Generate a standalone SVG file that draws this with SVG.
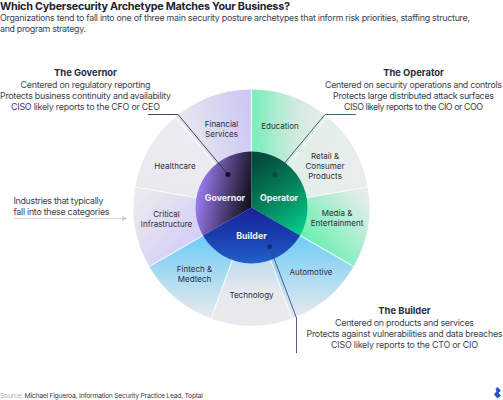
<svg xmlns="http://www.w3.org/2000/svg" width="503" height="400" viewBox="0 0 503 400">
<style>
text{font-family:"Inter","Liberation Sans",sans-serif}
.h{font-size:9.4px;font-weight:700;fill:#262d3d;text-anchor:middle}
.b{font-size:8.9px;fill:#3c4350;text-anchor:middle}
.s{font-size:8px;fill:#262d3d;text-anchor:middle}
.c{font-size:8.8px;font-weight:700;fill:#f2f2fa;text-anchor:middle}
.w{stroke:#fff;stroke-opacity:.75;stroke-width:1.2;fill:none}
.l{fill:none;stroke-width:.9}
</style>
<defs>
<linearGradient id="fs" gradientUnits="userSpaceOnUse" x1="251" y1="120" x2="180" y2="140"><stop offset="0" stop-color="#cdc8f5"/><stop offset="1" stop-color="#e9eaee"/></linearGradient>
<linearGradient id="hc" gradientUnits="userSpaceOnUse" x1="175" y1="130" x2="150" y2="200"><stop offset="0" stop-color="#ebebf2"/><stop offset="1" stop-color="#e9eaee"/></linearGradient>
<linearGradient id="ci" gradientUnits="userSpaceOnUse" x1="140" y1="190" x2="200" y2="240"><stop offset="0" stop-color="#ebebee"/><stop offset="1" stop-color="#d3cdf6"/></linearGradient>
<linearGradient id="ed" gradientUnits="userSpaceOnUse" x1="252" y1="125" x2="325" y2="125"><stop offset="0" stop-color="#76efb8"/><stop offset=".55" stop-color="#cdeadc"/><stop offset="1" stop-color="#e8edeb"/></linearGradient>
<linearGradient id="re" gradientUnits="userSpaceOnUse" x1="300" y1="160" x2="365" y2="180"><stop offset="0" stop-color="#e2eee8"/><stop offset="1" stop-color="#ebeded"/></linearGradient>
<linearGradient id="me" gradientUnits="userSpaceOnUse" x1="360" y1="190" x2="305" y2="235"><stop offset="0" stop-color="#e6eceb"/><stop offset="1" stop-color="#6cf0b2"/></linearGradient>
<linearGradient id="au" gradientUnits="userSpaceOnUse" x1="310" y1="240" x2="310" y2="315"><stop offset="0" stop-color="#74cdf5"/><stop offset="1" stop-color="#e5e9ee"/></linearGradient>
<linearGradient id="te" gradientUnits="userSpaceOnUse" x1="251" y1="262" x2="251" y2="310"><stop offset="0" stop-color="#bfdcee"/><stop offset=".6" stop-color="#e6e9ed"/><stop offset="1" stop-color="#e8eaed"/></linearGradient>
<linearGradient id="fi" gradientUnits="userSpaceOnUse" x1="195" y1="240" x2="195" y2="315"><stop offset="0" stop-color="#74cdf5"/><stop offset="1" stop-color="#e5e9ee"/></linearGradient>
<linearGradient id="go" gradientUnits="userSpaceOnUse" x1="197" y1="195" x2="252" y2="205"><stop offset="0" stop-color="#9a7cf0"/><stop offset=".5" stop-color="#53417f"/><stop offset="1" stop-color="#0d0b14"/></linearGradient>
<linearGradient id="op" gradientUnits="userSpaceOnUse" x1="255" y1="160" x2="305" y2="225"><stop offset="0" stop-color="#044a3e"/><stop offset=".5" stop-color="#038058"/><stop offset="1" stop-color="#04c686"/></linearGradient>
<linearGradient id="bu" gradientUnits="userSpaceOnUse" x1="251" y1="210" x2="251" y2="264"><stop offset="0" stop-color="#18249a"/><stop offset=".5" stop-color="#1a3fb0"/><stop offset="1" stop-color="#2360cc"/></linearGradient>
<marker id="ah" markerWidth="6" markerHeight="6" refX="5" refY="2.5" orient="auto"><path d="M0 0L5 2.5L0 5z" fill="#c9cbd0"/></marker>
</defs>

<text x="0" y="9.500" textLength="290" style="font-size:10.800px;font-weight:700;fill:#1f2533">Which Cybersecurity Archetype Matches Your Business?</text>
<text x="0" y="21" textLength="470" style="font-size:8.900px;fill:#3c4350">Organizations tend to fall into one of three main security posture archetypes that inform risk priorities, staffing structure,</text>
<text x="0" y="32" textLength="86" style="font-size:8.900px;fill:#3c4350">and program strategy.</text>

<g id="ring">
<path id="w-fs" fill="url(#fs)" d="M251.5 207.5V89.5A118 118 0 0 0 175.650 117.110Z"/>
<path id="w-hc" fill="url(#hc)" d="M251.5 207.5L175.650 117.110A118 118 0 0 0 135.293 187.010Z"/>
<path id="w-ci" fill="url(#ci)" d="M251.5 207.5L135.293 187.010A118 118 0 0 0 149.309 266.500Z"/>
<path id="w-ed" fill="url(#ed)" d="M251.5 207.5V89.5A118 118 0 0 1 327.350 117.110Z"/>
<path id="w-re" fill="url(#re)" d="M251.5 207.5L327.350 117.110A118 118 0 0 1 367.707 187.010Z"/>
<path id="w-me" fill="url(#me)" d="M251.5 207.5L367.707 187.010A118 118 0 0 1 353.691 266.500Z"/>
<path id="w-au" fill="url(#au)" d="M251.5 207.5L353.691 266.500A118 118 0 0 1 291.858 318.384Z"/>
<path id="w-te" fill="url(#te)" d="M251.5 207.5L291.858 318.384A118 118 0 0 1 211.142 318.384Z"/>
<path id="w-fi" fill="url(#fi)" d="M251.5 207.5L211.142 318.384A118 118 0 0 1 149.309 266.500Z"/>
<path class="w" d="M251.5 89.5V207.5M175.650 117.110L251.5 207.5L327.350 117.110M135.293 187.010L251.5 207.5L367.707 187.010M149.309 266.500L251.5 207.5L353.691 266.500M211.142 318.384L251.5 207.5L291.858 318.384"/>
</g>

<g id="governor"><path fill="url(#go)" d="M251.5 207.5V151.500A56 56 0 0 0 203.003 235.500Z"/><text class="c" x="225" y="201">Governor</text></g>
<g id="operator"><path fill="url(#op)" d="M251.5 207.5V151.500A56 56 0 0 1 299.997 235.500Z"/><text class="c" x="279" y="201">Operator</text></g>
<g id="builder"><path fill="url(#bu)" d="M251.5 207.5L299.997 235.500A56 56 0 0 1 203.003 235.500Z"/><text class="c" x="251.500" y="239">Builder</text></g>

<g id="n-fs"><text class="s" x="221.500" y="127">Financial</text><text class="s" x="221.500" y="137">Services</text></g>
<g id="n-hc"><text class="s" x="175" y="168.500">Healthcare</text></g>
<g id="n-ci"><text class="s" x="166.500" y="217">Critical</text><text class="s" x="166.500" y="227">Infrastructure</text></g>
<g id="n-ed"><text class="s" x="280" y="129">Education</text></g>
<g id="n-re"><text class="s" x="325" y="159">Retail &amp;</text><text class="s" x="325" y="169">Consumer</text><text class="s" x="325" y="179">Products</text></g>
<g id="n-me"><text class="s" x="337" y="215.500">Media &amp;</text><text class="s" x="337" y="226">Entertainment</text></g>
<g id="n-au"><text class="s" x="311" y="274.500">Automotive</text></g>
<g id="n-te"><text class="s" x="251.500" y="298">Technology</text></g>
<g id="n-fi"><text class="s" x="194.500" y="272">Fintech &amp;</text><text class="s" x="194.500" y="282">Medtech</text></g>

<g id="connectors">
<path class="l" stroke="#31304f" d="M148 114.500H178L228 174.500"/>
<path class="l" stroke="#1f5c58" d="M356 114.500H325L275 174.500"/>
<path class="l" stroke="#3c4a85" d="M269.500 246.500L296.500 318V353"/>
<path stroke="#d5d6da" stroke-width="1" fill="none" marker-end="url(#ah)" d="M13 218.500H127"/>
<circle cx="228" cy="174.500" r="2.500" fill="#15102a"/>
<circle cx="275" cy="174.500" r="2.500" fill="#064a42"/>
<circle cx="269.500" cy="246.500" r="2.500" fill="#123080"/>
</g>

<g id="t-gov"><text class="h" x="85.500" y="75.500">The Governor</text><text class="b" x="85.500" y="87.500" textLength="130">Centered on regulatory reporting</text><text class="b" x="85.500" y="98.500" textLength="171">Protects business continuity and availability</text><text class="b" x="85.500" y="109.500" textLength="149">CISO likely reports to the CFO or CEO</text></g>
<g id="t-op"><text class="h" x="413.500" y="75.500">The Operator</text><text class="b" x="413.500" y="87.500" textLength="177">Centered on security operations and controls</text><text class="b" x="413.500" y="98.500" textLength="161">Protects large distributed attack surfaces</text><text class="b" x="413.500" y="109.500" textLength="139">CISO likely reports to the CIO or COO</text></g>
<g id="t-bu"><text class="h" x="404.500" y="313.500">The Builder</text><text class="b" x="404.500" y="326" textLength="139">Centered on products and services</text><text class="b" x="404.500" y="337" textLength="196">Protects against vulnerabilities and data breaches</text><text class="b" x="404.500" y="348" textLength="147">CISO likely reports to the CTO or CIO</text></g>
<g id="t-ind"><text x="13.500" y="204" textLength="90" style="font-size:8.900px;fill:#3c4350">Industries that typically</text><text x="13.500" y="215" textLength="96" style="font-size:8.900px;fill:#3c4350">fall into these categories</text></g>

<text x="0" y="398" textLength="203" style="font-size:6.800px;fill:#aeb1b8">Source: <tspan fill="#3c4350">Michael Figueroa, Information Security Practice Lead, Toptal</tspan></text>
<g id="logo"><path fill="#2a55c8" d="M497.500 387L501 390.500L498.500 393L501 395.500L497.500 398.500L494 394.500L496.500 391L495.500 389Z"/></g>
</svg>
